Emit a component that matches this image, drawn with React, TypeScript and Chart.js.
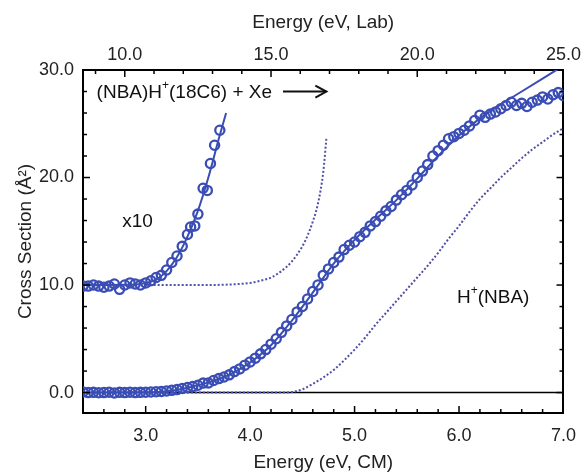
import React, { useEffect, useRef } from 'react';
import { Chart, registerables } from 'chart.js';

Chart.register(...registerables);

const FONT = 'Arial, "Liberation Sans", Helvetica, sans-serif';
const LAB_PER_CM = 25 / 7;

// Main measured cross section (open circles)
const mainEnergy = [
  2.40, 2.45, 2.50, 2.55, 2.60, 2.65, 2.70, 2.75, 2.80, 2.85, 2.90, 2.95,
  3.00, 3.05, 3.10, 3.15, 3.20, 3.25, 3.30, 3.35, 3.40, 3.45, 3.50, 3.55,
  3.60, 3.65, 3.70, 3.75, 3.80, 3.85, 3.90, 3.95, 4.00, 4.05, 4.10, 4.15,
  4.20, 4.25, 4.30, 4.35, 4.40, 4.45, 4.50, 4.55, 4.60, 4.65, 4.70, 4.75,
  4.80, 4.85, 4.90, 4.95, 5.00, 5.05, 5.10, 5.15, 5.20, 5.25, 5.30, 5.35,
  5.40, 5.45, 5.50, 5.55, 5.60, 5.65, 5.70, 5.75, 5.80, 5.85, 5.90, 5.95,
  6.00, 6.05, 6.10, 6.15, 6.20, 6.25, 6.30, 6.35, 6.40, 6.45, 6.50, 6.55,
  6.60, 6.65, 6.70, 6.75, 6.80, 6.85, 6.90, 6.95, 7.00,
];
const mainCross = [
  0.05, 0.00, 0.02, -0.02, 0.00, 0.03, -0.03, 0.02, 0.00, 0.03, 0.00, 0.02,
  0.03, 0.05, 0.08, 0.10, 0.15, 0.21, 0.28, 0.38, 0.47, 0.56, 0.68, 0.88,
  0.90, 1.12, 1.30, 1.45, 1.65, 1.95, 2.20, 2.55, 2.85, 3.20, 3.60, 4.00,
  4.50, 5.00, 5.60, 6.20, 6.80, 7.50, 8.00, 8.70, 9.40, 10.0, 10.9, 11.5,
  12.1, 12.6, 13.3, 13.7, 14.0, 14.5, 14.9, 15.5, 15.9, 16.4, 16.9, 17.3,
  17.9, 18.4, 18.8, 19.3, 20.0, 20.6, 21.2, 22.0, 22.5, 23.0, 23.6, 23.8,
  24.1, 24.4, 24.8, 25.3, 25.8, 25.6, 25.9, 26.1, 26.4, 26.7, 27.0, 26.7,
  26.9, 26.6, 27.0, 27.2, 27.5, 27.3, 27.7, 27.9, 27.6,
];

// x10 expanded threshold data (offset by 10)
const x10Energy = [
  2.40, 2.45, 2.50, 2.55, 2.60, 2.65, 2.70, 2.75, 2.80, 2.85, 2.90, 2.95,
  3.00, 3.05, 3.10, 3.15, 3.20, 3.25, 3.30, 3.35, 3.40, 3.43, 3.47, 3.50,
  3.55, 3.59, 3.62, 3.66, 3.71,
];
const x10Cross = [
  9.9, 9.9, 10.0, 9.9, 9.8, 9.9, 10.1, 9.6, 10.0, 10.2, 10.1, 10.0,
  10.2, 10.4, 10.7, 10.9, 11.4, 12.1, 12.7, 13.6, 14.7, 15.4, 15.5, 16.6,
  19.0, 18.8, 21.3, 23.0, 24.4,
];

// Convoluted model fits (solid lines)
const mainFitEnergy = [2.4, 3.0, 3.2, 3.4, 3.6, 3.8, 4.0, 4.2, 4.4, 4.6, 4.8, 5.0, 5.2, 5.4, 5.6, 5.8, 6.0, 6.2, 6.4, 6.6, 6.8, 7.0];
const mainFitCross = [0, 0.02, 0.12, 0.45, 0.95, 1.65, 2.8, 4.4, 6.7, 9.3, 12.0, 14.2, 16.1, 17.9, 19.9, 22.0, 23.9, 25.5, 26.8, 28.0, 29.2, 30.4];
const x10FitEnergy = [2.4, 2.9, 3.0, 3.1, 3.2, 3.3, 3.4, 3.5, 3.6, 3.7, 3.77];
const x10FitCross = [10, 10.05, 10.2, 10.5, 11.3, 12.6, 14.5, 16.9, 20.0, 23.6, 26.0];

// Unconvoluted model (dotted lines)
const mainModelEnergy = [2.4, 4.3, 4.4, 4.5, 4.6, 4.7, 4.8, 4.9, 5.0, 5.1, 5.2, 5.3, 5.4, 5.5, 5.6, 5.7, 5.8, 5.9, 6.0, 6.1, 6.2, 6.3, 6.4, 6.5, 6.6, 6.7, 6.8, 6.9, 7.0];
const mainModelCross = [0, 0, 0.05, 0.3, 0.8, 1.4, 2.1, 3.0, 4.0, 5.1, 6.3, 7.4, 8.5, 9.6, 10.7, 11.8, 13.0, 14.3, 15.5, 16.8, 18.0, 19.0, 20.0, 20.9, 21.8, 22.6, 23.3, 24.0, 24.6];
const x10ModelEnergy = [3.0, 3.5, 3.8, 4.0, 4.1, 4.2, 4.3, 4.4, 4.5, 4.55, 4.6, 4.65, 4.7, 4.73];
const x10ModelCross = [10, 10, 10.05, 10.2, 10.4, 10.7, 11.3, 12.2, 13.6, 14.6, 15.9, 17.6, 20.5, 23.6];

// Axis ranges
const cmRange = [2.4, 7.0];
const yRange = [-1.9, 30];

const BLUE = '#3a4db4';
const DOT = '#5050a6';

const pts = (xs: number[], ys: number[]) => xs.map((x, i) => ({ x, y: ys[i] }));

const frameTicks = {
  id: 'frameTicks',
  afterDraw(chart: any) {
    const { ctx, chartArea: a, scales } = chart;
    ctx.save();
    ctx.strokeStyle = '#000';
    ctx.lineWidth = 1.5;
    const line = (x1: number, y1: number, x2: number, y2: number) => {
      ctx.beginPath();
      ctx.moveTo(x1, y1);
      ctx.lineTo(x2, y2);
      ctx.stroke();
    };
    for (let i = 13; i < 35; i++) {
      const px = scales.x.getPixelForValue(i / 5);
      const L = i % 5 === 0 ? 7 : 4;
      line(px, a.bottom, px, a.bottom - L);
    }
    for (let i = 9; i < 25; i++) {
      const px = scales.x2.getPixelForValue(i);
      const L = i % 5 === 0 ? 7 : 4;
      line(px, a.top, px, a.top + L);
    }
    for (let v = 0; v < 30; v += 2) {
      const py = scales.y.getPixelForValue(v);
      const L = v % 10 === 0 ? 7 : 4;
      line(a.left, py, a.left + L, py);
      line(a.right, py, a.right - L, py);
    }
    ctx.restore();

    ctx.save();
    ctx.fillStyle = '#111';
    ctx.textAlign = 'left';
    ctx.textBaseline = 'middle';
    const big = `19px ${FONT}`;
    const small = `12px ${FONT}`;
    let x = scales.x.getPixelForValue(2.53);
    const y = scales.y.getPixelForValue(27.9);
    ctx.font = big;
    ctx.fillText('(NBA)H', x, y);
    x += ctx.measureText('(NBA)H').width;
    ctx.font = small;
    ctx.fillText('+', x, y - 7);
    x += ctx.measureText('+').width;
    ctx.font = big;
    ctx.fillText('(18C6) + Xe', x, y);
    x += ctx.measureText('(18C6) + Xe').width;
    const ax1 = x + 11;
    const ax2 = scales.x.getPixelForValue(4.73);
    const ay = y - 1;
    ctx.strokeStyle = '#111';
    ctx.lineWidth = 2;
    ctx.beginPath();
    ctx.moveTo(ax1, ay);
    ctx.lineTo(ax2, ay);
    ctx.stroke();
    ctx.beginPath();
    ctx.moveTo(ax2 - 11, ay - 6);
    ctx.lineTo(ax2, ay);
    ctx.lineTo(ax2 - 11, ay + 6);
    ctx.stroke();
    ctx.font = big;
    ctx.fillText('x10', scales.x.getPixelForValue(2.91) - 14, scales.y.getPixelForValue(15.9));
    let hx = scales.x.getPixelForValue(5.98);
    const hy = scales.y.getPixelForValue(8.8);
    ctx.fillText('H', hx, hy);
    hx += ctx.measureText('H').width;
    ctx.font = small;
    ctx.fillText('+', hx, hy - 7);
    hx += ctx.measureText('+').width;
    ctx.font = big;
    ctx.fillText('(NBA)', hx, hy);
    ctx.restore();
  },
};

const tickFont = { family: FONT, size: 18 };
const titleFont = { family: FONT, size: 19 };
const fmt = (v: any) => Number(v).toFixed(1);

export default function App() {
  const ref = useRef<HTMLCanvasElement>(null);
  useEffect(() => {
    if (!ref.current) return;
    const chart = new Chart(ref.current, {
      type: 'line',
      data: {
        datasets: [
          {
            label: 'x10 data',
            data: pts(x10Energy, x10Cross),
            showLine: false,
            pointRadius: 4.6,
            pointBorderWidth: 2.3,
            pointBorderColor: BLUE,
            pointBackgroundColor: 'rgba(0,0,0,0)',
            borderColor: BLUE,
          },
          {
            label: 'data',
            data: pts(mainEnergy, mainCross),
            showLine: false,
            pointRadius: 4.6,
            pointBorderWidth: 2.3,
            pointBorderColor: BLUE,
            pointBackgroundColor: 'rgba(0,0,0,0)',
            borderColor: BLUE,
          },
          {
            label: 'fit',
            data: pts(mainFitEnergy, mainFitCross),
            borderColor: BLUE,
            borderWidth: 2,
            pointRadius: 0,
            cubicInterpolationMode: 'monotone',
          },
          {
            label: 'fit x10',
            data: pts(x10FitEnergy, x10FitCross),
            borderColor: BLUE,
            borderWidth: 2,
            pointRadius: 0,
            cubicInterpolationMode: 'monotone',
          },
          {
            label: 'model',
            data: pts(mainModelEnergy, mainModelCross),
            borderColor: DOT,
            borderWidth: 2,
            borderDash: [2, 2],
            pointRadius: 0,
            cubicInterpolationMode: 'monotone',
          },
          {
            label: 'model x10',
            data: pts(x10ModelEnergy, x10ModelCross),
            borderColor: DOT,
            borderWidth: 2,
            borderDash: [2, 2],
            pointRadius: 0,
            cubicInterpolationMode: 'monotone',
          },
          {
            label: 'zero',
            data: pts(cmRange, [0, 0]),
            borderColor: '#000',
            borderWidth: 1.5,
            pointRadius: 0,
          },
        ],
      },
      options: {
        animation: false,
        responsive: false,
        devicePixelRatio: 1,
        layout: { padding: 0 },
        plugins: { legend: { display: false }, tooltip: { enabled: false } },
        scales: {
          x: {
            type: 'linear',
            position: 'bottom',
            min: cmRange[0],
            max: cmRange[1],
            afterFit: (s: any) => { s.height = 61; },
            grid: { display: false, drawTicks: false },
            border: { display: true, color: '#000', width: 2 },
            ticks: { stepSize: 1, includeBounds: false, callback: fmt, font: tickFont, color: '#222', padding: 12, maxRotation: 0 },
            title: { display: true, text: 'Energy (eV, CM)', font: titleFont, color: '#222', padding: { top: 0, bottom: 0 } },
          },
          x2: {
            type: 'linear',
            position: 'top',
            min: cmRange[0] * LAB_PER_CM,
            max: cmRange[1] * LAB_PER_CM,
            afterFit: (s: any) => { s.height = 70; },
            grid: { display: false, drawTicks: false },
            border: { display: true, color: '#000', width: 2 },
            ticks: { stepSize: 5, includeBounds: false, callback: fmt, font: tickFont, color: '#222', padding: 4, maxRotation: 0 },
            title: { display: true, text: 'Energy (eV, Lab)', font: titleFont, color: '#222', padding: { top: 11, bottom: 0 } },
          },
          y: {
            type: 'linear',
            position: 'left',
            min: yRange[0],
            max: yRange[1],
            afterFit: (s: any) => { s.width = 83; },
            grid: { display: false, drawTicks: false },
            border: { display: true, color: '#000', width: 2 },
            ticks: { stepSize: 10, includeBounds: false, callback: fmt, font: tickFont, color: '#222', padding: 9 },
            title: { display: true, text: 'Cross Section (Å²)', font: titleFont, color: '#222', padding: { top: 14, bottom: 0 } },
          },
          y2: {
            type: 'linear',
            position: 'right',
            min: yRange[0],
            max: yRange[1],
            afterFit: (s: any) => { s.width = 18; },
            grid: { display: false, drawTicks: false },
            border: { display: true, color: '#000', width: 2 },
            ticks: { display: false },
          },
        },
      },
      plugins: [frameTicks],
    } as any);
    return () => chart.destroy();
  }, []);
  return (
    <div style={{ position: 'absolute', left: 0, top: 0, width: 588, height: 474, background: '#fff' }}>
      <canvas ref={ref} width={588} height={474} style={{ display: 'block', width: 588, height: 474 }} />
    </div>
  );
}
